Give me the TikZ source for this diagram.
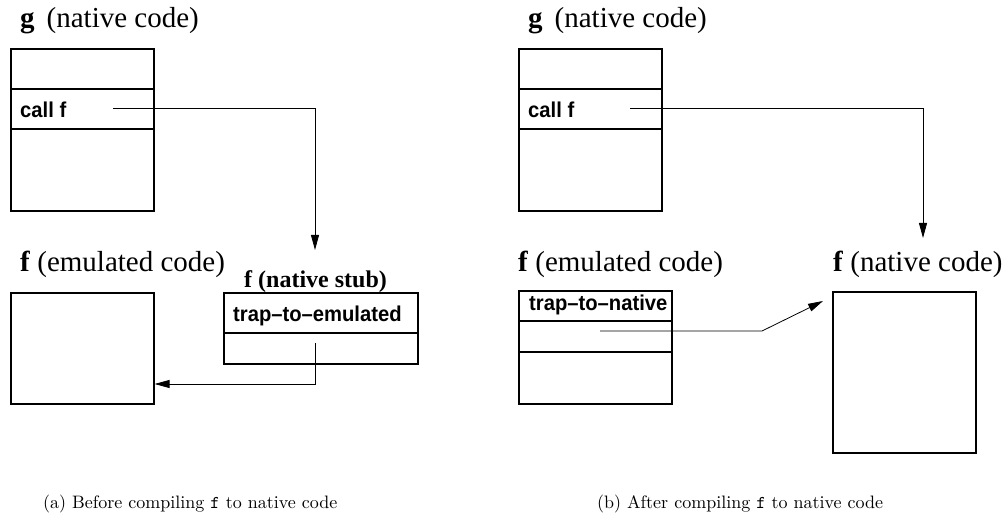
\documentclass[tikz,border=0pt]{standalone}
\usepackage{fontspec}
\setmainfont{Liberation Serif}
\newfontfamily\lblfont{Liberation Sans}[FakeStretch=0.94]
\newfontfamily\capfont{lmroman10-regular}[Extension=.otf]
\newfontfamily\captt{lmmono10-regular}[Extension=.otf]
\usetikzlibrary{arrows.meta}

\tikzset{
  codebox/.style={draw, line width=1.6pt, inner sep=0pt, anchor=north west},
  divider/.style={line width=1.3pt},
  link/.style={line width=0.8pt, -{Triangle[length=15pt,width=8pt]}},
  title/.style={anchor=base west, inner sep=0pt, font=\fontsize{29}{31}\selectfont},
  stubtitle/.style={anchor=base west, inner sep=0pt, font=\bfseries\fontsize{24}{26}\selectfont},
  lbl/.style={anchor=base west, inner sep=0pt, font=\lblfont\bfseries\fontsize{21.5}{23}\selectfont},
  caption/.style={anchor=base west, inner sep=0pt, font=\capfont\fontsize{18}{20}\selectfont}
}

\begin{document}
\begin{tikzpicture}[x=1pt, y=-1pt]
\path[use as bounding box] (0,0) rectangle (1003,521);

% ---------- (a) before compiling ----------
\node[title] (gA) at (20,28) {\textbf{g}\hspace{12pt}(native code)};
\node[codebox, minimum width=143pt, minimum height=162pt] (gboxA) at (10,48) {};
\draw[divider] (10,89) -- (153,89);
\draw[divider] (10,129) -- (153,129);
\node[lbl] (callA) at (20,118) {call f};

\node[title] (femA) at (20,272) {\textbf{f} (emulated code)};
\node[codebox, minimum width=143pt, minimum height=111pt] (emA) at (10,292) {};

\node[stubtitle] (stubT) at (244,287) {f (native stub)};
\node[codebox, minimum width=194pt, minimum height=71pt] (stub) at (223,292) {};
\draw[divider] (223,333) -- (417,333);
\node[lbl] (trapE) at (233,321) {trap–to–emulated};

\coordinate (callAsrc) at (113,108);
\coordinate (stubIn) at (315,250);
\draw[link] (callAsrc) -| (stubIn);

\coordinate (stubSrc) at (315,343);
\draw[link] (stubSrc) |- (emA.east |- 0,384);

\node[caption] (capA) at (43,508) {(a) Before compiling {\captt f} to native code};

% ---------- (b) after compiling ----------
\node[title] (gB) at (528,28) {\textbf{g}\hspace{12pt}(native code)};
\node[codebox, minimum width=143pt, minimum height=162pt] (gboxB) at (518,48) {};
\draw[divider] (518,89) -- (661,89);
\draw[divider] (518,129) -- (661,129);
\node[lbl] (callB) at (528,118) {call f};

\node[title] (femB) at (518,272) {\textbf{f} (emulated code)};
\node[codebox, minimum width=153pt, minimum height=113pt] (emB) at (518,290) {};
\draw[divider] (518,321) -- (671,321);
\draw[divider] (518,352) -- (671,352);
\node[lbl] (trapN) at (529,310) {trap–to–native};

\node[title] (fnat) at (833,272) {\textbf{f} (native code)};
\node[codebox, minimum width=143pt, minimum height=161pt] (natB) at (832,291) {};

\coordinate (callBsrc) at (630,108);
\coordinate (natIn) at (923,238);
\draw[link] (callBsrc) -| (natIn);

\coordinate (trapSrc) at (600,331);
\coordinate (bend) at (762,331);
\coordinate (natEntry) at (823,301);
\draw[link] (trapSrc) -- (bend) -- (natEntry);

\node[caption] (capB) at (597,508) {(b) After compiling {\captt f} to native code};
\end{tikzpicture}
\end{document}
